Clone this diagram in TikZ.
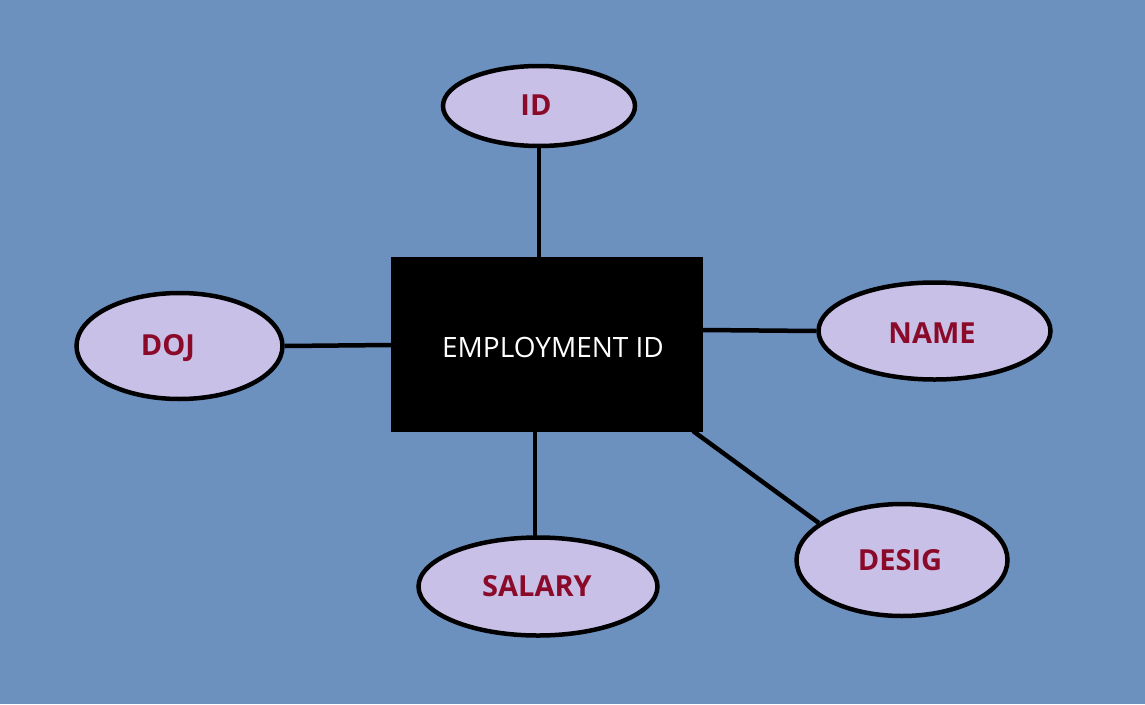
\documentclass[tikz,border=0pt]{standalone}
\usepackage{fontspec}
\setmainfont{Open Sans}
\usetikzlibrary{shapes.geometric,backgrounds}
\definecolor{bgblue}{HTML}{6D91BF}
\definecolor{attrfill}{HTML}{C8C0E6}
\definecolor{attrtext}{HTML}{8B0A2A}
\tikzset{
  attr/.style={ellipse, draw=black, line width=4.5pt, fill=attrfill, inner sep=0pt},
  attrlabel/.style={text=attrtext, font=\fontsize{29}{34}\selectfont\bfseries},
  link/.style={draw=black, line width=4.5pt},
  entity/.style={rectangle, fill=black, inner sep=0pt},
  entitylabel/.style={text=white, font=\fontsize{28}{32}\selectfont}
}
\begin{document}
\begin{tikzpicture}[x=1pt,y=-1pt]
\useasboundingbox (0,0) rectangle (1145,704);
\node[entity, minimum width=312pt, minimum height=175pt] (emp) at (547,344.5) {};
\node[entitylabel] (emptext) at (553,347) {EMPLOYMENT ID};
\node[attr, minimum width=192pt, minimum height=80pt] (id) at (539,106) {};
\node[attrlabel] (idt) at (536,105) {ID};
\node[attr, minimum width=206pt, minimum height=106pt] (doj) at (179.5,346) {};
\node[attrlabel] (dojt) at (168,348) {DOJ};
\node[attr, minimum width=232pt, minimum height=97pt] (name) at (934.5,331) {};
\node[attrlabel] (namet) at (932,333) {NAME};
\node[attr, minimum width=239pt, minimum height=98pt] (salary) at (538,586.5) {};
\node[attrlabel] (salaryt) at (537,586) {SALARY};
\node[attr, minimum width=211pt, minimum height=112pt] (desig) at (902,560) {};
\node[attrlabel] (desigt) at (900,560) {DESIG};
\coordinate (eN) at (539,257);
\coordinate (eW) at (391,345);
\coordinate (eE) at (703,330);
\coordinate (eS) at (535,432);
\coordinate (eSE) at (693,431);
\coordinate (sT) at (535,543);
\begin{scope}[on background layer]
\fill[bgblue] (0,0) rectangle (1145,704);
\path[link] (id.south) -- (eN);
\path[link] (doj.east) -- (eW);
\path[link] (eE) -- (name.west);
\path[link] (eS) -- (sT);
\path[link] (eSE) -- (desig.156);
\end{scope}
\end{tikzpicture}
\end{document}
